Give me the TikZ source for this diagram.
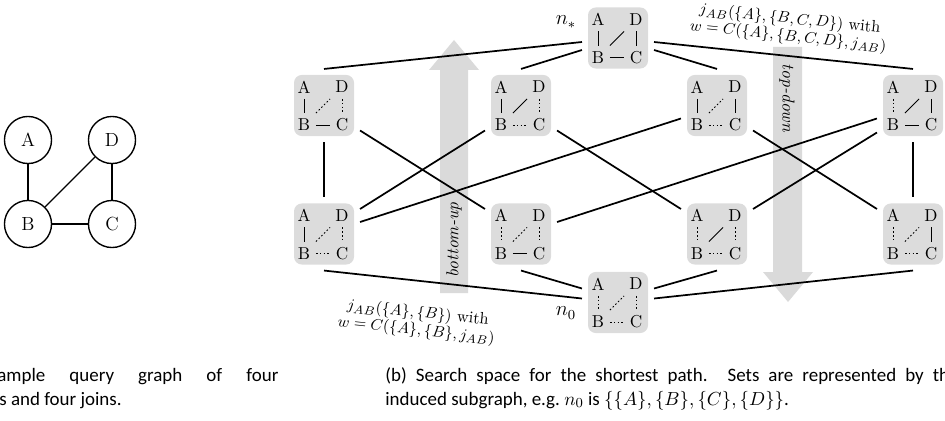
\documentclass[tikz,border=0pt]{standalone}
\usepackage{fontspec}
\newfontfamily\capfont{Carlito}
\usetikzlibrary{calc}
\definecolor{boxgray}{HTML}{DCDCDC}
\definecolor{arrowgray}{HTML}{DADADA}
\newcommand\qgraph[7]{%
  \node[qbox] (#1) at (#2,#3) {};
  \node[letter] (#1a) at (#2-20,#3-18.5) {A};
  \node[letter] (#1d) at (#2+18,#3-18.5) {D};
  \node[letter] (#1b) at (#2-20,#3+19.5) {B};
  \node[letter] (#1c) at (#2+18,#3+19.5) {C};
  \draw[#4] (#1a) -- (#1b);
  \draw[#5] (#1b) -- (#1d);
  \draw[#6] (#1d) -- (#1c);
  \draw[#7] (#1b) -- (#1c);
}
\begin{document}
\begin{tikzpicture}[x=0.58pt,y=-0.58pt,
  conn/.style={line width=1pt},
  qbox/.style={fill=boxgray, rounded corners=4.5pt, minimum width=34.8pt, minimum height=35.4pt, inner sep=0pt, outer sep=3.5pt},
  letter/.style={inner sep=0pt, outer sep=0pt, minimum size=13.9pt, font=\fontsize{10}{12}\selectfont},
  sol/.style={line width=0.5pt},
  dot/.style={line width=0.55pt, dash pattern=on 0.9pt off 1.3pt},
  vert/.style={circle, draw, line width=0.8pt, minimum size=27.3pt, inner sep=0pt, font=\fontsize{11}{13}\selectfont},
  edgelab/.style={align=center, rotate=-6, inner sep=0pt, font=\fontsize{9.5}{10}\selectfont},
  captext/.style={inner sep=0pt, font=\capfont\fontsize{11}{13}\selectfont}
]
\useasboundingbox (0,0) rectangle (945,420);
\clip (0,0) rectangle (945,420);

% (a) query graph
\node[vert] (A) at (28,140) {A};
\node[vert] (D) at (112,140) {D};
\node[vert] (B) at (28,224) {B};
\node[vert] (C) at (112,224) {C};
\draw[line width=0.8pt] (A) -- (B);
\draw[line width=0.8pt] (B) -- (C);
\draw[line width=0.8pt] (B) -- (D);
\draw[line width=0.8pt] (D) -- (C);

% big arrows
\fill[arrowgray] (440,293) -- (440,70) -- (429,70) -- (454,40) -- (479,70) -- (468,70) -- (468,293) -- cycle;
\fill[arrowgray] (773,47) -- (773,272) -- (763,272) -- (788,302) -- (813,272) -- (802,272) -- (802,47) -- cycle;
\node[rotate=90, inner sep=0pt, font=\fontsize{10}{12}\selectfont\itshape] (bu) at (454,240) {bottom-up};
\node[rotate=-90, inner sep=0pt, font=\fontsize{10}{12}\selectfont\itshape] (td) at (787,98) {top-down};

% search space
\qgraph{ns}{618}{38}{sol}{sol}{sol}{sol}
\qgraph{T1}{324}{105.5}{sol}{dot}{dot}{sol}
\qgraph{T2}{521}{105.5}{sol}{sol}{dot}{dot}
\qgraph{T3}{717}{105.5}{sol}{dot}{sol}{dot}
\qgraph{T4}{913}{105.5}{dot}{sol}{sol}{sol}
\qgraph{U1}{324}{234}{sol}{dot}{dot}{dot}
\qgraph{U2}{521}{234}{dot}{dot}{dot}{sol}
\qgraph{U3}{717}{234}{dot}{sol}{dot}{dot}
\qgraph{U4}{913}{234}{dot}{dot}{sol}{dot}
\qgraph{n0}{618}{302.5}{dot}{dot}{dot}{dot}

\node[inner sep=0pt] (nslab) at (566,22) {\large$n_*$};
\node[inner sep=0pt] (n0lab) at (566,313) {\large$n_0$};

% connectors: top row to n*
\draw[conn] (T1.north) -- ($(ns.west)+(0,4)$);
\draw[conn] (T2.north) -- ($(ns.west)+(0,12)$);
\draw[conn] (T3.north) -- ($(ns.east)+(0,12)$);
\draw[conn] (T4.north) -- ($(ns.east)+(0,4)$);
% bottom row to n0
\draw[conn] (U1.south) -- ($(n0.west)+(0,-4)$);
\draw[conn] (U2.south) -- ($(n0.west)+(0,-14)$);
\draw[conn] (U3.south) -- ($(n0.east)+(0,-14)$);
\draw[conn] (U4.south) -- ($(n0.east)+(0,-4)$);
% middle
\draw[conn] (T1.south) -- (U1.north);
\draw[conn] (T4.south) -- (U4.north);
\draw[conn] ($(T1.east)+(0,25)$) -- ($(U2.west)+(0,-25)$);
\draw[conn] ($(T2.west)+(0,25)$) -- ($(U1.east)+(0,-25)$);
\draw[conn] ($(T2.east)+(0,25)$) -- ($(U3.west)+(0,-25)$);
\draw[conn] ($(T3.west)+(0,13)$) -- ($(U1.east)+(0,-12)$);
\draw[conn] ($(T3.east)+(0,25)$) -- ($(U4.west)+(0,-25)$);
\draw[conn] ($(T4.west)+(0,13)$) -- ($(U2.east)+(0,-12)$);
\draw[conn] ($(T4.west)+(0,27)$) -- ($(U3.east)+(0,-25)$);

% edge labels
\node[edgelab] (lab1) at (417,322) {$j_{AB}(\{A\},\{B\})$ with\\$w=C(\{A\},\{B\},j_{AB})$};
\node[edgelab] (lab2) at (789,28) {$j_{AB}(\{A\},\{B,C,D\})$ with\\$w=C(\{A\},\{B,C,D\},j_{AB})$};

% captions
\node[captext, anchor=base west] (capa1) at (-3,381) {\makebox[163pt][s]{ample query graph of four}};
\node[captext, anchor=base west] (capa2) at (-1,405) {s and four joins.};
\node[captext, anchor=base west] (capb1) at (385,381) {\makebox[327pt][s]{(b) Search space for the shortest path. Sets are represented by th}};
\node[captext, anchor=base west] (capb2) at (385,405) {induced subgraph, e.g.\ $n_0$ is $\big\{\{A\},\{B\},\{C\},\{D\}\big\}$.};
\end{tikzpicture}
\end{document}
